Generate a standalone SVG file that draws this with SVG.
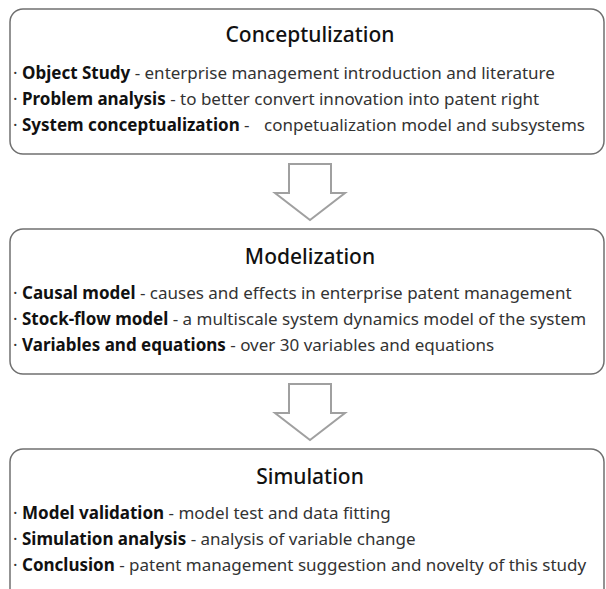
<svg xmlns="http://www.w3.org/2000/svg" width="606" height="589" viewBox="0 0 606 589">
<style>
.box{fill:#fff;stroke:#707070;stroke-width:1.5}
.arr{fill:#fff;stroke:#a0a0a0;stroke-width:2;stroke-linejoin:miter}
.title{font-family:"Noto Sans","Open Sans",sans-serif;font-size:21px;font-weight:500;fill:#111;text-anchor:middle}
.item{font-family:"Noto Sans","Open Sans",sans-serif;font-size:17px;fill:#333}
.b{font-weight:bold;fill:#111}
</style>
<rect width="606" height="589" fill="#fff"/>
<g id="conceptulization">
<rect class="box" x="10" y="9" width="594" height="145" rx="13"/>
<text class="title" x="310" y="42">Conceptulization</text>
<text class="item" x="13" y="79">· <tspan class="b">Object Study</tspan> - enterprise management introduction and literature</text>
<text class="item" x="13" y="105">· <tspan class="b">Problem analysis</tspan> - to better convert innovation into patent right</text>
<text class="item" x="13" y="131">· <tspan class="b">System conceptualization</tspan> - <tspan dx="10">conpetualization model and subsystems</tspan></text>
</g>
<g id="modelization">
<rect class="box" x="10" y="229" width="594" height="145" rx="13"/>
<text class="title" x="310" y="264">Modelization</text>
<text class="item" x="13" y="299">· <tspan class="b">Causal model</tspan> - causes and effects in enterprise patent management</text>
<text class="item" x="13" y="325">· <tspan class="b">Stock-flow model</tspan> - a multiscale system dynamics model of the system</text>
<text class="item" x="13" y="351">· <tspan class="b">Variables and equations</tspan> - over 30 variables and equations</text>
</g>
<g id="simulation">
<rect class="box" x="10" y="449" width="594" height="160" rx="13"/>
<text class="title" x="310" y="484">Simulation</text>
<text class="item" x="13" y="519">· <tspan class="b">Model validation</tspan> - model test and data fitting</text>
<text class="item" x="13" y="545">· <tspan class="b">Simulation analysis</tspan> - analysis of variable change</text>
<text class="item" x="13" y="571">· <tspan class="b">Conclusion</tspan> - patent management suggestion and novelty of this study</text>
</g>
<g id="connectors">
<path class="arr" d="M289,164 H331 V193 H345 L310,220 L275,193 H289 Z"/>
<path class="arr" d="M289,384 H331 V413 H345 L310,440 L275,413 H289 Z"/>
</g>
</svg>
